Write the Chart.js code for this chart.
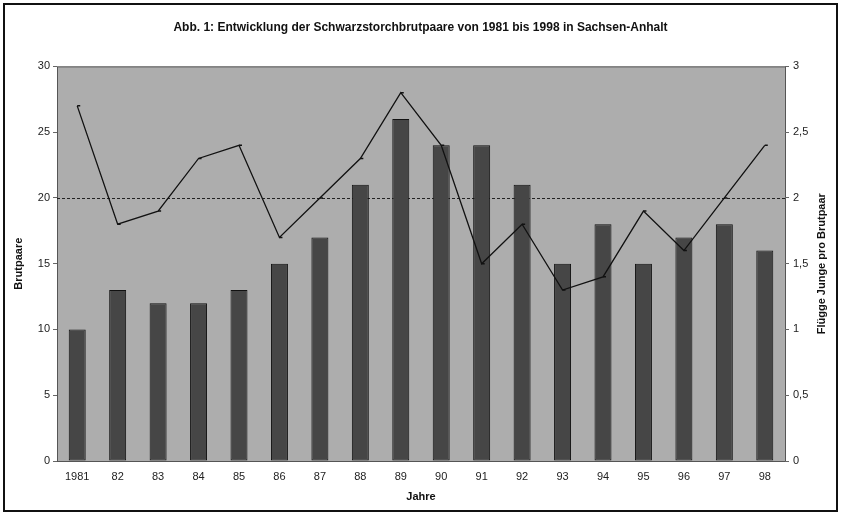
<!DOCTYPE html>
<html>
<head>
<meta charset="utf-8">
<script src="https://cdn.jsdelivr.net/npm/chart.js@4"></script>
<style>
  body { margin: 0; background: #fff; }
  #wrap { width: 841px; height: 516px; }
</style>
</head>
<body>
<div id="wrap"><canvas id="chart" width="841" height="516"></canvas></div>
<script>
const years = ["1981","82","83","84","85","86","87","88","89","90","91","92","93","94","95","96","97","98"];
const brutpaare = [10,13,12,12,13,15,17,21,26,24,24,21,15,18,15,17,18,16];
const jungeProPaar = [2.7,1.8,1.9,2.3,2.4,1.7,2.0,2.3,2.8,2.4,1.5,1.8,1.3,1.4,1.9,1.6,2.0,2.4];
const referenceLevel = 2;
const rightTitle = "Flügge Junge pro Brutpaar";

const tickColor = "#222";
const fontName = "'Liberation Sans', Arial, sans-serif";

// plot background, frame around the whole picture, dashed reference line
const framePlugin = {
  id: "frame",
  beforeDraw(chart) {
    const ctx = chart.ctx;
    const a = chart.chartArea;
    ctx.save();
    ctx.fillStyle = "#fff";
    ctx.fillRect(0, 0, chart.width, chart.height);
    ctx.fillStyle = "#adadad";
    ctx.fillRect(a.left, a.top, a.right - a.left, a.bottom - a.top);
    ctx.strokeStyle = "#555";
    ctx.lineWidth = 1;
    ctx.strokeRect(a.left + 0.5, a.top + 0.5, a.right - a.left, a.bottom - a.top);
    ctx.restore();
  },
  beforeDatasetsDraw(chart) {
    const ctx = chart.ctx;
    const a = chart.chartArea;
    const y = Math.round(chart.scales.y1.getPixelForValue(referenceLevel)) + 0.5;
    ctx.save();
    ctx.strokeStyle = "#222";
    ctx.lineWidth = 1;
    ctx.setLineDash([3, 2]);
    ctx.beginPath();
    ctx.moveTo(a.left, y);
    ctx.lineTo(a.right, y);
    ctx.stroke();
    ctx.restore();
  },
  afterDraw(chart) {
    const ctx = chart.ctx;
    const a = chart.chartArea;
    ctx.save();
    // right axis title reads bottom to top, like the left one
    ctx.translate(chart.width - 19, (a.top + a.bottom) / 2);
    ctx.rotate(-Math.PI / 2);
    ctx.fillStyle = "#111";
    ctx.font = "bold 11px " + fontName;
    ctx.textAlign = "center";
    ctx.textBaseline = "middle";
    ctx.fillText(rightTitle, 0, 0);
    ctx.restore();
    ctx.save();
    ctx.strokeStyle = "#111";
    ctx.lineWidth = 2;
    ctx.strokeRect(4, 4, chart.width - 8, chart.height - 9);
    ctx.restore();
  }
};

new Chart(document.getElementById("chart").getContext("2d"), {
  type: "bar",
  data: {
    labels: years,
    datasets: [{
      type: "line",
      label: rightTitle,
      data: jungeProPaar,
      yAxisID: "y1",
      borderColor: "#111",
      borderWidth: 1.3,
      pointStyle: "dash",
      pointRadius: 3,
      pointBorderColor: "#111",
      pointBorderWidth: 1.5,
      tension: 0,
      fill: false,
      order: 0
    }, {
      label: "Brutpaare",
      data: brutpaare,
      yAxisID: "y",
      backgroundColor: "#464646",
      borderColor: "#111",
      borderWidth: 1,
      borderSkipped: false,
      categoryPercentage: 1,
      barPercentage: 0.42,
      order: 1
    }]
  },
  options: {
    responsive: false,
    animation: false,
    layout: { padding: { left: 8, right: 8, top: 8, bottom: 8 } },
    plugins: {
      legend: { display: false },
      tooltip: { enabled: false },
      title: {
        display: true,
        text: "Abb. 1: Entwicklung der Schwarzstorchbrutpaare von 1981 bis 1998 in Sachsen-Anhalt",
        color: "#111",
        font: { family: fontName, size: 12, weight: "bold" },
        padding: { top: 12, bottom: 32 }
      }
    },
    scales: {
      x: {
        offset: true,
        grid: { display: false, drawTicks: false },
        border: { display: false },
        ticks: {
          color: tickColor,
          font: { family: fontName, size: 11 },
          padding: 9,
          maxRotation: 0,
          autoSkip: false
        },
        title: {
          display: true,
          text: "Jahre",
          color: "#111",
          font: { family: fontName, size: 11, weight: "bold" },
          padding: { top: 4 }
        },
        afterFit(scale) { scale.height = 47; }
      },
      y: {
        position: "left",
        min: 0,
        max: 30,
        grid: { drawOnChartArea: false, tickLength: 4, color: "#666" },
        border: { display: false },
        ticks: {
          stepSize: 5,
          color: tickColor,
          font: { family: fontName, size: 11 },
          padding: 3
        },
        title: {
          display: true,
          text: "Brutpaare",
          color: "#111",
          font: { family: fontName, size: 11, weight: "bold" },
          padding: { top: 4, bottom: 6 }
        },
        afterFit(scale) { scale.width = 49; }
      },
      y1: {
        position: "right",
        min: 0,
        max: 3,
        grid: { drawOnChartArea: false, tickLength: 4, color: "#666" },
        border: { display: false },
        ticks: {
          stepSize: 0.5,
          color: tickColor,
          font: { family: fontName, size: 11 },
          padding: 4,
          callback: (v) => String(v).replace(".", ",")
        },
        title: { display: false },
        afterFit(scale) { scale.width = 48; }
      }
    }
  },
  plugins: [framePlugin]
});
</script>
</body>
</html>
